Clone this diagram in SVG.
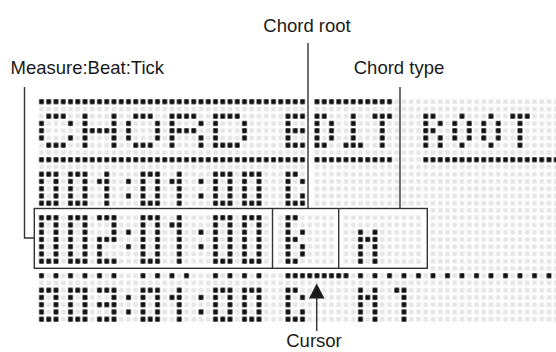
<svg xmlns="http://www.w3.org/2000/svg" xmlns:xlink="http://www.w3.org/1999/xlink" width="556" height="352" viewBox="0 0 556 352">
<style>
.on{fill:url(#on)}
.on2{fill:url(#on2)}
.hide{fill:#fff}
.ln{stroke:#333;stroke-width:1.4;fill:none}
.lbl{font-family:"Liberation Sans",Arial,sans-serif;font-size:18.5px;fill:#1a1a1a}
</style>
<defs>
<pattern id="off" patternUnits="userSpaceOnUse" width="1" height="1"><rect x="0.18" y="0.18" width="0.64" height="0.64" fill="#e6e6e6"/></pattern>
<pattern id="on" patternUnits="userSpaceOnUse" width="1" height="1"><rect x="0.17" y="0.17" width="0.66" height="0.66" rx="0.06" fill="#111"/></pattern>
<pattern id="on2" patternUnits="userSpaceOnUse" width="2" height="1"><rect x="0.17" y="0.17" width="0.66" height="0.66" rx="0.06" fill="#111"/></pattern>
<g id="z5" class="on"><rect x="0" y="0" width="1" height="5"/><rect x="2" y="0" width="1" height="5"/><rect x="1" y="0" width="1" height="1"/><rect x="1" y="4" width="1" height="1"/></g>
<g id="o5" class="on"><rect x="1" y="0" width="1" height="5"/><rect x="0" y="1" width="1" height="1"/></g>
<g id="c5" class="on"><rect x="0" y="1" width="1" height="1"/><rect x="0" y="3" width="1" height="1"/></g>
<g id="C5" class="on"><rect x="0" y="0" width="1" height="5"/><rect x="1" y="0" width="1" height="1"/><rect x="2" y="1" width="1" height="1"/><rect x="2" y="3" width="1" height="1"/><rect x="1" y="4" width="2" height="1"/></g>
<g id="z7" class="on"><rect x="0" y="0" width="1" height="7"/><rect x="2" y="0" width="1" height="7"/><rect x="1" y="0" width="1" height="1"/><rect x="1" y="6" width="1" height="1"/></g>
<g id="o7" class="on"><rect x="1" y="0" width="1" height="7"/><rect x="0" y="1" width="1" height="1"/></g>
<g id="c7" class="on"><rect x="0" y="2" width="1" height="1"/><rect x="0" y="4" width="1" height="1"/></g>
</defs>
<rect width="556" height="352" fill="#fff"/>
<g id="lcd" transform="translate(37.875,98.075) scale(7.25)">
<rect x="0" y="0" width="71.6" height="31" fill="url(#off)"/>
<g class="hide">
<rect x="37" y="0" width="1" height="15"/>
<rect x="0" y="15" width="54" height="1"/>
<rect x="0" y="23" width="54" height="1"/>
<rect x="32" y="16" width="1" height="7"/>
<rect x="41" y="16" width="1" height="7"/>
<rect x="53" y="16" width="1" height="7"/>
</g>
<g id="rules" class="on">
<rect x="0" y="0" width="37" height="1"/><rect x="38" y="0" width="11" height="1"/>
<rect x="0" y="8" width="37" height="1"/><rect x="38" y="8" width="11" height="1"/><rect x="53" y="8" width="19" height="1"/>
</g>
<g id="header" class="on">
<rect x="1" y="2" width="3" height="1"/><rect x="0" y="3" width="1" height="3"/><rect x="4" y="3" width="1" height="1"/><rect x="4" y="5" width="1" height="1"/><rect x="1" y="6" width="3" height="1"/>
<rect x="6" y="2" width="1" height="5"/><rect x="10" y="2" width="1" height="5"/><rect x="7" y="4" width="3" height="1"/>
<rect x="13" y="2" width="3" height="1"/><rect x="12" y="3" width="1" height="3"/><rect x="16" y="3" width="1" height="3"/><rect x="13" y="6" width="3" height="1"/>
<rect x="18" y="2" width="1" height="5"/><rect x="19" y="2" width="3" height="1"/><rect x="22" y="3" width="1" height="1"/><rect x="19" y="4" width="3" height="1"/><rect x="22" y="5" width="1" height="2"/>
<rect x="24" y="2" width="1" height="5"/><rect x="25" y="2" width="3" height="1"/><rect x="28" y="3" width="1" height="3"/><rect x="25" y="6" width="3" height="1"/>
<rect x="34" y="2" width="1" height="5"/><rect x="35" y="2" width="2" height="1"/><rect x="35" y="4" width="2" height="1"/><rect x="35" y="6" width="2" height="1"/>
<rect x="38" y="2" width="1" height="5"/><rect x="39" y="2" width="1" height="1"/><rect x="40" y="3" width="1" height="3"/><rect x="39" y="6" width="1" height="1"/>
<rect x="43" y="2" width="1" height="4"/><rect x="42" y="6" width="3" height="1"/>
<rect x="46" y="2" width="3" height="1"/><rect x="47" y="3" width="1" height="4"/>
<rect x="53" y="2" width="1" height="5"/><rect x="54" y="2" width="1" height="1"/><rect x="55" y="3" width="1" height="1"/><rect x="54" y="4" width="1" height="1"/><rect x="55" y="5" width="1" height="2"/>
<rect x="58" y="2" width="1" height="1"/><rect x="57" y="3" width="1" height="3"/><rect x="59" y="3" width="1" height="3"/><rect x="58" y="6" width="1" height="1"/>
<rect x="62" y="2" width="1" height="1"/><rect x="61" y="3" width="1" height="3"/><rect x="63" y="3" width="1" height="3"/><rect x="62" y="6" width="1" height="1"/>
<rect x="65" y="2" width="3" height="1"/><rect x="66" y="3" width="1" height="4"/>
</g>
<g id="line001">
<use xlink:href="#z5" x="0" y="10"/><use xlink:href="#z5" x="4" y="10"/><use xlink:href="#o5" x="8" y="10"/><use xlink:href="#c5" x="12" y="10"/>
<use xlink:href="#z5" x="14" y="10"/><use xlink:href="#o5" x="18" y="10"/><use xlink:href="#c5" x="22" y="10"/>
<use xlink:href="#z5" x="24" y="10"/><use xlink:href="#z5" x="28" y="10"/><use xlink:href="#C5" x="34" y="10"/>
</g>
<g id="line002">
<use xlink:href="#z7" x="0" y="16"/><use xlink:href="#z7" x="4" y="16"/>
<g class="on"><rect x="8" y="16" width="3" height="1"/><rect x="10" y="17" width="1" height="2"/><rect x="8" y="19" width="3" height="1"/><rect x="8" y="20" width="1" height="2"/><rect x="8" y="22" width="3" height="1"/></g>
<use xlink:href="#c7" x="12" y="16"/><use xlink:href="#z7" x="14" y="16"/><use xlink:href="#o7" x="18" y="16"/><use xlink:href="#c7" x="22" y="16"/>
<use xlink:href="#z7" x="24" y="16"/><use xlink:href="#z7" x="28" y="16"/>
<g class="on"><rect x="34" y="16" width="1" height="7"/><rect x="35" y="16" width="1" height="1"/><rect x="35" y="19" width="1" height="1"/><rect x="35" y="22" width="1" height="1"/><rect x="36" y="18" width="1" height="1"/><rect x="36" y="20" width="1" height="2"/></g>
<g class="on"><rect x="44" y="18" width="1" height="5"/><rect x="46" y="18" width="1" height="5"/><rect x="45" y="19" width="1" height="1"/></g>
</g>
<g id="cursorrow">
<rect class="on2" x="0" y="24" width="12" height="1"/><rect class="on2" x="14" y="24" width="8" height="1"/><rect class="on2" x="24" y="24" width="8" height="1"/><rect class="on2" x="44" y="24" width="28" height="1"/>
<rect class="on" x="34" y="24" width="9" height="1"/>
</g>
<g id="line003">
<use xlink:href="#z5" x="0" y="26"/><use xlink:href="#z5" x="4" y="26"/>
<g class="on"><rect x="8" y="26" width="3" height="1"/><rect x="10" y="27" width="1" height="1"/><rect x="8" y="28" width="3" height="1"/><rect x="10" y="29" width="1" height="1"/><rect x="8" y="30" width="3" height="1"/></g>
<use xlink:href="#c5" x="12" y="26"/><use xlink:href="#z5" x="14" y="26"/><use xlink:href="#o5" x="18" y="26"/><use xlink:href="#c5" x="22" y="26"/>
<use xlink:href="#z5" x="24" y="26"/><use xlink:href="#z5" x="28" y="26"/><use xlink:href="#C5" x="34" y="26"/>
<g class="on"><rect x="44" y="26" width="1" height="5"/><rect x="46" y="26" width="1" height="5"/><rect x="45" y="27" width="1" height="1"/><rect x="49" y="26" width="2" height="1"/><rect x="50" y="27" width="1" height="4"/></g>
</g>
</g>
<g id="box">
<rect class="ln" x="34.3" y="208.5" width="393" height="59.8"/>
<line class="ln" x1="272.5" y1="208.5" x2="272.5" y2="268.3"/>
<line class="ln" x1="338.7" y1="208.5" x2="338.7" y2="268.3"/>
</g>
<g id="connectors">
<line class="ln" x1="308" y1="43" x2="308" y2="208.5"/>
<line class="ln" x1="400" y1="87" x2="400" y2="208.5"/>
<polyline class="ln" points="24.5,87 24.5,238 34.3,238"/>
<line class="ln" x1="316.7" y1="296" x2="316.7" y2="331"/>
<polygon points="316.7,283.5 309,298.5 324.5,298.5" fill="#1a1a1a"/>
</g>
<g id="label-root"><text class="lbl" x="307" y="31.5" text-anchor="middle">Chord root</text></g>
<g id="label-mbt"><text class="lbl" x="10.5" y="74.3">Measure:Beat:Tick</text></g>
<g id="label-type"><text class="lbl" x="399" y="74.3" text-anchor="middle">Chord type</text></g>
<g id="label-cursor"><text class="lbl" x="314" y="346.5" text-anchor="middle">Cursor</text></g>
</svg>
